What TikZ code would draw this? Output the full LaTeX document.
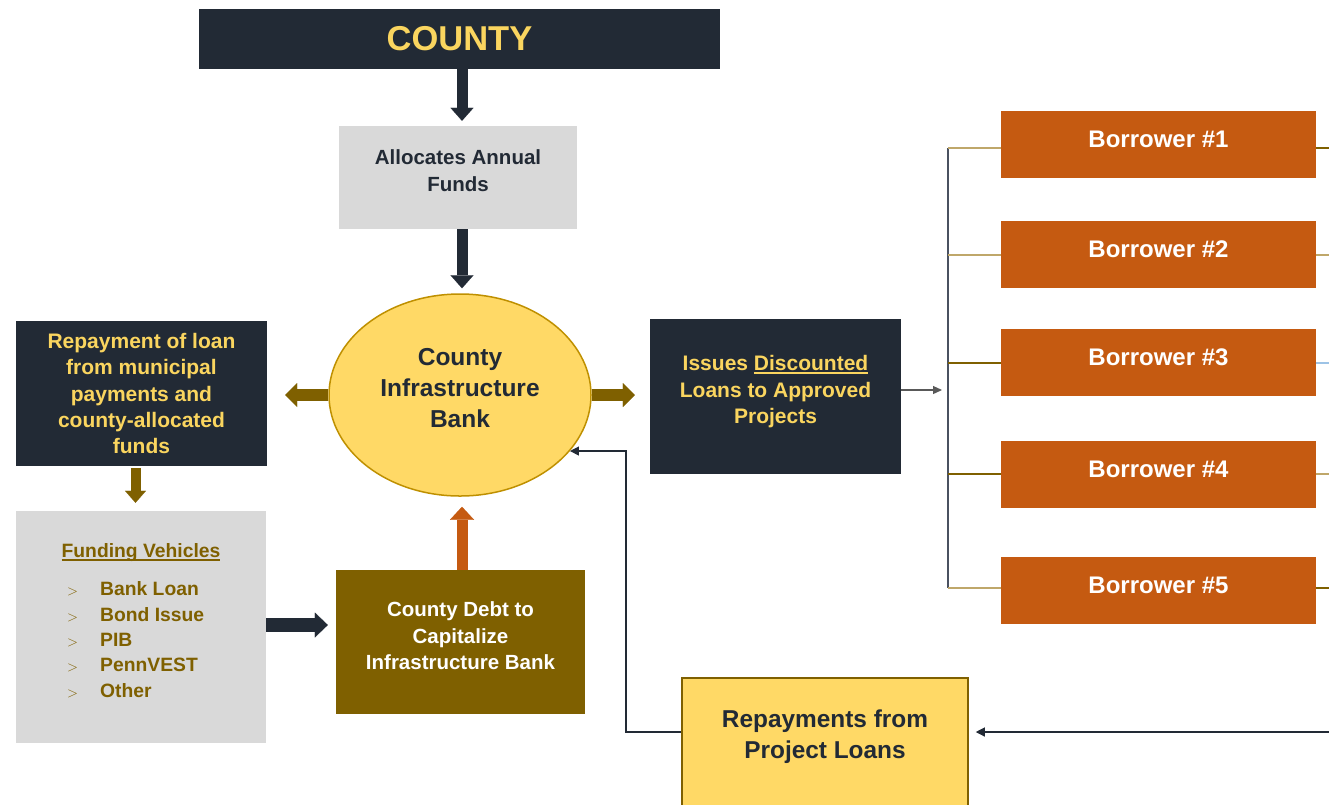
\documentclass[tikz,border=0pt]{standalone}
\usepackage{fontspec}
\setmainfont{Liberation Sans}
\usetikzlibrary{arrows.meta,shapes.geometric}
\definecolor{navy}{HTML}{222A35}
\definecolor{gold}{HTML}{FFD966}
\definecolor{goldtxt}{HTML}{FAD55F}
\definecolor{lgray}{HTML}{D9D9D9}
\definecolor{brown}{HTML}{7F6000}
\definecolor{orange}{HTML}{C55A11}
\definecolor{ellborder}{HTML}{BF9000}
\definecolor{tan}{HTML}{BFA76A}
\definecolor{lblue}{HTML}{9DC3E6}
\definecolor{trunkc}{HTML}{4A5160}
\definecolor{arrgray}{HTML}{595959}
\newcommand\myuline[1]{\setbox0\hbox{#1}\rlap{\raisebox{-3pt}{\rule{\wd0}{1.8pt}}}\box0}
\begin{document}
\begin{tikzpicture}[x=1pt,y=-1pt,
  box/.style={rectangle, inner sep=0pt, align=center, font=\bfseries},
  darkarr/.style={draw=navy, line width=11pt, -{Triangle[width=23pt,length=13pt,line width=0.1pt]}},
  brownarr/.style={draw=brown, line width=12pt, -{Triangle[width=24pt,length=12pt,line width=0.1pt]}},
  thinarr/.style={draw=arrgray, line width=1.2pt, -{Triangle[width=8pt,length=9pt]}},
  retarr/.style={draw=navy, line width=1.2pt, -{Triangle[width=9pt,length=9pt]}},
  trunkline/.style={draw=trunkc, line width=1.2pt},
  borrower/.style={box, fill=orange, text=white, minimum width=315pt, minimum height=67pt,
     font=\bfseries\fontsize{24}{29}\selectfont}
]
\useasboundingbox (0,0) rectangle (1329,804);
\clip (0,0) rectangle (1329,804);
\fill[white] (0,0) rectangle (1329,804);

% nodes
\node[box, fill=navy, text=goldtxt, minimum width=521pt, minimum height=60pt,
  font=\bfseries\fontsize{34.5}{40}\selectfont] (county) at (459.5,39) {COUNTY};
\node[box, fill=lgray, text=navy, minimum width=238pt, minimum height=103pt,
  font=\bfseries\fontsize{20.5}{27}\selectfont] (alloc) at (458,177.5)
  {Allocates Annual\\Funds\rule[-14pt]{0pt}{0pt}};
\node[ellipse, draw=ellborder, line width=1.5pt, fill=gold, text=navy, inner sep=0pt,
  minimum width=262pt, minimum height=202pt, align=center,
  font=\bfseries\fontsize{24.5}{31}\selectfont] (bank) at (460,395)
  {County\\Infrastructure\\Bank\rule[-14pt]{0pt}{0pt}};
\node[box, fill=navy, text=goldtxt, minimum width=251pt, minimum height=145pt,
  font=\bfseries\fontsize{21}{26.2}\selectfont] (loan) at (141.5,393.5)
  {Repayment of loan\\from municipal\\payments and\\county-allocated\\funds};
\node[box, fill=lgray, minimum width=250pt, minimum height=232pt] (fv) at (141,627) {};
\node[font=\bfseries\fontsize{19.3}{24}\selectfont, text=brown, inner sep=0pt] (fvh) at (141,553)
  {\myuline{Funding Vehicles}};
\node[anchor=west, inner sep=0pt, text=brown, font=\bfseries\fontsize{19.3}{25.3}\selectfont] (fvl) at (67,641.5)
  {\begin{tabular}{@{}l@{}l@{}}
   \makebox[33pt][l]{\normalfont\fontsize{15}{15}\selectfont$>$} & Bank Loan\\
   \makebox[33pt][l]{\normalfont\fontsize{15}{15}\selectfont$>$} & Bond Issue\\
   \makebox[33pt][l]{\normalfont\fontsize{15}{15}\selectfont$>$} & PIB\\
   \makebox[33pt][l]{\normalfont\fontsize{15}{15}\selectfont$>$} & PennVEST\\
   \makebox[33pt][l]{\normalfont\fontsize{15}{15}\selectfont$>$} & Other
   \end{tabular}};
\node[box, fill=brown, text=white, minimum width=249pt, minimum height=144pt,
  font=\bfseries\fontsize{20.5}{26.5}\selectfont] (debt) at (460.5,642)
  {County Debt to\\Capitalize\\Infrastructure Bank\rule[-12pt]{0pt}{0pt}};
\node[box, fill=navy, text=goldtxt, minimum width=251pt, minimum height=155pt,
  font=\bfseries\fontsize{21}{26.5}\selectfont] (iss) at (775.5,396.5)
  {Issues \myuline{Discounted}\\Loans to Approved\\Projects\rule[-14pt]{0pt}{0pt}};
\node[borrower] (b1) at (1158.5,144.5) {Borrower \#1\rule[-10pt]{0pt}{0pt}};
\node[borrower] (b2) at (1158.5,254.5) {Borrower \#2\rule[-10pt]{0pt}{0pt}};
\node[borrower] (b3) at (1158.5,362.5) {Borrower \#3\rule[-10pt]{0pt}{0pt}};
\node[borrower] (b4) at (1158.5,474.5) {Borrower \#4\rule[-10pt]{0pt}{0pt}};
\node[borrower] (b5) at (1158.5,590.5) {Borrower \#5\rule[-10pt]{0pt}{0pt}};
\node[box, fill=gold, draw=brown, line width=1.5pt, text=navy, minimum width=286pt, minimum height=132pt,
  font=\bfseries\fontsize{24.4}{31}\selectfont] (rep) at (825,744)
  {Repayments from\\Project Loans\rule[-19pt]{0pt}{0pt}};

% block arrows
\draw[darkarr, shorten >=5pt] ([xshift=2.5pt]county.south) -- ([xshift=2.5pt]county.south |- alloc.north);
\draw[darkarr, shorten >=5pt] ([xshift=4pt]alloc.south) -- ([xshift=4pt]alloc.south |- bank.north);
\draw[brownarr, shorten >=18pt] (bank.west) -- (bank.west -| loan.east);
\draw[brownarr, shorten >=15pt] (bank.east) -- (bank.east -| iss.west);
\draw[draw=brown, line width=10pt, -{Triangle[width=21pt,length=12pt,line width=0.1pt]}, shorten <=2pt, shorten >=8pt]
  ([xshift=-6pt]loan.south) -- ([xshift=-6pt]loan.south |- fv.north);
\draw[draw=navy, line width=14pt, -{Triangle[width=25pt,length=13pt,line width=0.1pt]}, shorten >=8pt]
  ([yshift=2pt]fv.east) -- ([yshift=2pt]fv.east -| debt.west);
\draw[draw=orange, line width=11pt, -{Triangle[width=24pt,length=13pt,line width=0.1pt]}, shorten >=10pt]
  ([xshift=1.5pt]debt.north) -- ([xshift=1.5pt]debt.north |- bank.south);

% tree to borrowers
\coordinate (t1) at (948,148);
\coordinate (t2) at (948,255);
\coordinate (t3) at (948,363);
\coordinate (t4) at (948,474);
\coordinate (t5) at (948,588);
\coordinate (tin) at (942,390);
\draw[thinarr] (iss.east |- tin) -- (tin);
\draw[trunkline] (t1) -- (t5);
\draw[draw=tan, line width=1.2pt] (t1) -- (t1 -| b1.west);
\draw[draw=tan, line width=1.2pt] (t2) -- (t2 -| b2.west);
\draw[draw=brown, line width=1.2pt] (t3) -- (t3 -| b3.west);
\draw[draw=brown, line width=1.2pt] (t4) -- (t4 -| b4.west);
\draw[draw=tan, line width=1.2pt] (t5) -- (t5 -| b5.west);
% stubs to the right edge
\coordinate (e1) at (1329,148);
\coordinate (e2) at (1329,255);
\coordinate (e3) at (1329,363);
\coordinate (e4) at (1329,474);
\coordinate (e5) at (1329,588);
\draw[draw=brown, line width=1.2pt] (b1.east |- e1) -- (e1);
\draw[draw=tan, line width=1.2pt] (b2.east |- e2) -- (e2);
\draw[draw=lblue, line width=1.2pt] (b3.east |- e3) -- (e3);
\draw[draw=tan, line width=1.2pt] (b4.east |- e4) -- (e4);
\draw[draw=brown, line width=1.2pt] (b5.east |- e5) -- (e5);

% return flows
\coordinate (rin) at (1329,732);
\draw[retarr, shorten >=7pt] (rin) -- (rin -| rep.east);
\draw[retarr] (rep.west |- rin) -- (626,732) |- (bank.-27);
\end{tikzpicture}
\end{document}
